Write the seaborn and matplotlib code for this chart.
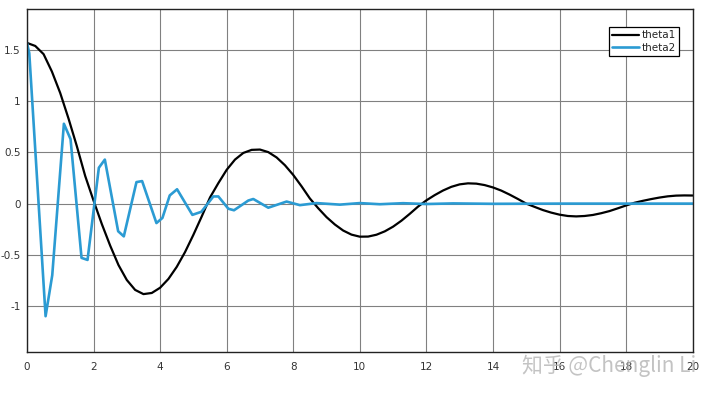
import pandas as pd
import matplotlib
matplotlib.use("Agg")
import matplotlib.pyplot as plt
import seaborn as sns

# theta1 (black), every 0.25 s
t1 = [0.0, 0.25, 0.5, 0.75, 1.0, 1.25, 1.5, 1.75, 2.0, 2.25, 2.5, 2.75, 3.0, 3.25, 3.5, 3.75,
      4.0, 4.25, 4.5, 4.75, 5.0, 5.25, 5.5, 5.75, 6.0, 6.25, 6.5, 6.75, 7.0, 7.25, 7.5, 7.75,
      8.0, 8.25, 8.5, 8.75, 9.0, 9.25, 9.5, 9.75, 10.0, 10.25, 10.5, 10.75, 11.0, 11.25, 11.5, 11.75,
      12.0, 12.25, 12.5, 12.75, 13.0, 13.25, 13.5, 13.75, 14.0, 14.25, 14.5, 14.75, 15.0, 15.25, 15.5, 15.75,
      16.0, 16.25, 16.5, 16.75, 17.0, 17.25, 17.5, 17.75, 18.0, 18.25, 18.5, 18.75, 19.0, 19.25, 19.5, 19.75, 20.0]
theta1 = [1.57, 1.54, 1.46, 1.29, 1.08, 0.83, 0.56, 0.27, 0.03, -0.20, -0.41, -0.60, -0.746, -0.843, -0.884, -0.873,
          -0.822, -0.736, -0.618, -0.473, -0.305, -0.126, 0.06, 0.20, 0.33, 0.43, 0.495, 0.525, 0.528, 0.503, 0.451, 0.375,
          0.280, 0.169, 0.05, -0.045, -0.132, -0.204, -0.263, -0.303, -0.323, -0.322, -0.304, -0.271, -0.225, -0.167, -0.100, -0.029,
          0.032, 0.083, 0.128, 0.164, 0.188, 0.198, 0.195, 0.181, 0.158, 0.127, 0.088, 0.045, 0.0, -0.032, -0.063, -0.088,
          -0.108, -0.121, -0.125, -0.121, -0.111, -0.094, -0.073, -0.046, -0.018, 0.008, 0.027, 0.044, 0.059, 0.071, 0.078, 0.080, 0.079]

# theta2 (blue), solver output points
t2 = [0.0, 0.07, 0.56, 0.76, 1.11, 1.31, 1.64, 1.82, 2.16, 2.34, 2.74, 2.91, 3.29, 3.46, 3.89, 4.07,
      4.29, 4.51, 4.97, 5.24, 5.60, 5.75, 6.05, 6.22, 6.65, 6.80, 7.25, 7.80, 8.20, 8.70, 9.40, 10.0,
      10.6, 11.3, 12.0, 12.8, 14.0, 16.0, 20.0]
theta2 = [1.57, 1.47, -1.10, -0.70, 0.78, 0.63, -0.53, -0.55, 0.35, 0.43, -0.27, -0.32, 0.21, 0.22, -0.19, -0.14,
          0.08, 0.14, -0.11, -0.08, 0.07, 0.07, -0.05, -0.065, 0.03, 0.045, -0.04, 0.02, -0.015, 0.005, -0.01, 0.005,
          -0.006, 0.004, -0.004, 0.002, -0.002, 0.0, 0.0]

xticks = [0, 2, 4, 6, 8, 10, 12, 14, 16, 18, 20]
xticklabels = ["0", "2", "4", "6", "8", "10", "12", "14", "16", "18", "20"]
yticks = [-1, -0.5, 0, 0.5, 1, 1.5]
yticklabels = ["-1", "-0.5", "0", "0.5", "1", "1.5"]

sns.set_style("white")
plt.rcParams['font.family'] = ['DejaVu Sans', 'Noto Sans CJK SC']

fig = plt.figure(figsize=(7.09, 3.96), dpi=100)
ax = fig.add_axes([0.038, 0.111, 0.939, 0.866])

df1 = pd.DataFrame({"t": t1, "theta": theta1})
df2 = pd.DataFrame({"t": t2, "theta": theta2})
sns.lineplot(data=df1, x="t", y="theta", ax=ax, color="black", linewidth=1.6,
             sort=False, label="theta1")
sns.lineplot(data=df2, x="t", y="theta", ax=ax, color="#2b9bd3", linewidth=1.9,
             sort=False, label="theta2")

ax.set_xlim(0, 20)
ax.set_ylim(-1.45, 1.9)
ax.set_xticks(xticks)
ax.set_xticklabels(xticklabels)
ax.set_yticks(yticks)
ax.set_yticklabels(yticklabels)
ax.set_xlabel("")
ax.set_ylabel("")
ax.grid(True, color="#808080", linewidth=0.8)
ax.tick_params(direction="in", length=3, labelsize=7.5, labelcolor="#333333",
               color="#333333")
ax.tick_params(axis="x", pad=7)
ax.tick_params(axis="y", pad=4.5)
for s in ax.spines.values():
    s.set_visible(True)
    s.set_color("#222222")
    s.set_linewidth(1.0)

leg = ax.legend(loc="upper right", bbox_to_anchor=(0.980, 0.9475), fontsize=7.5,
                frameon=True, fancybox=False, framealpha=1, edgecolor="black",
                handlelength=2.6, borderpad=0.3, labelspacing=0.25,
                handletextpad=0.3, borderaxespad=0)
leg.get_frame().set_linewidth(0.9)

# watermark
fig.text(0.982, 0.075, "知乎 @Chenglin Li", ha="right", va="center", fontsize=15,
         color="#b5b5b5", alpha=0.8, family=['Noto Sans CJK SC', 'DejaVu Sans'])

fig.savefig("out.png", dpi=100)
